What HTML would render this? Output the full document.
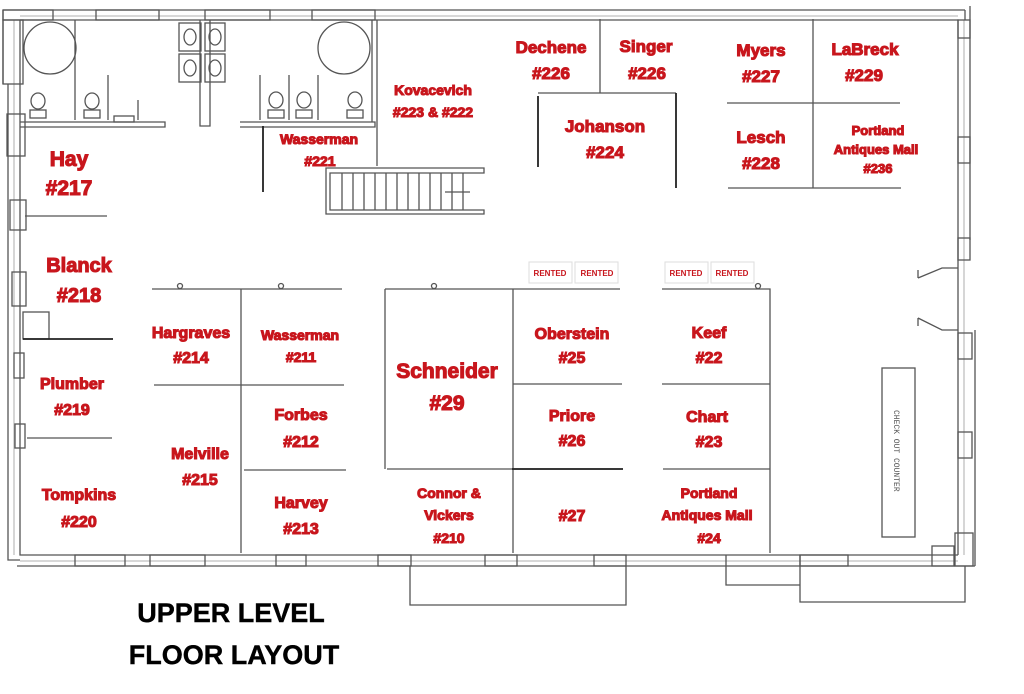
<!DOCTYPE html>
<html><head><meta charset="utf-8"><style>
body{margin:0;background:#fff;}
svg{display:block;}
.l{fill:#c8161d;font-family:"Liberation Sans",sans-serif;font-weight:bold;text-anchor:middle;stroke:#c8161d;stroke-width:1.1;}
.w{fill:none;stroke:#555;stroke-width:1.3;}
.d{fill:none;stroke:#222;stroke-width:1.8;}
.t{fill:#000;font-family:"Liberation Sans",sans-serif;font-weight:bold;text-anchor:middle;font-size:27px;stroke:#000;stroke-width:0.4;}
</style></head><body>
<svg width="1024" height="694" viewBox="0 0 1024 694" xmlns="http://www.w3.org/2000/svg">
<rect width="1024" height="694" fill="#fff"/>
<g class="w">
<path d="M3 10 H965 M3 10 V84 M8 84 V560 H20"/>
<path d="M20 20 H958 V555 M20 20 V555 H958"/>
<path d="M17 566 H975 M965 10 V20 M970 6 V240 M975 330 V566"/>
<path d="M20 16 H958 M14 20 V555 M20 561 H958 M964 20 V555" stroke="#999" stroke-width="0.8"/>
<rect x="3" y="10" width="50" height="10"/><rect x="96" y="10" width="63" height="10"/>
<rect x="205" y="10" width="65" height="10"/><rect x="312" y="10" width="63" height="10"/>
<rect x="3" y="20" width="20" height="64"/><rect x="7" y="114" width="18" height="42"/>
<rect x="10" y="200" width="16" height="30"/><rect x="12" y="272" width="14" height="34"/>
<rect x="14" y="353" width="10" height="25"/><rect x="15" y="424" width="10" height="24"/>
<rect x="958" y="20" width="12" height="18"/><rect x="958" y="137" width="12" height="26"/>
<rect x="958" y="238" width="12" height="22"/><rect x="958" y="333" width="14" height="26"/>
<rect x="958" y="432" width="14" height="26"/><rect x="955" y="533" width="18" height="33"/>
<rect x="75" y="555" width="50" height="11"/><rect x="150" y="555" width="55" height="11"/>
<rect x="276" y="555" width="30" height="11"/><rect x="378" y="555" width="33" height="11"/>
<rect x="485" y="555" width="32" height="11"/><rect x="594" y="555" width="32" height="11"/>
<rect x="800" y="555" width="48" height="11"/><rect x="932" y="546" width="22" height="20"/>
<path d="M410 566 V605 H626 V566 M726 555 V585 H800 V555 M800 566 V602 H965 V566"/>
<path d="M918 278 L942 268 H958 M918 278 V270 M918 318 L942 330 H958 M918 318 V326"/>
</g>
<g class="w">
<circle cx="50" cy="48" r="26"/><circle cx="344" cy="48" r="26"/>
<path d="M20 122 H165 V127 H20 M75 20 V120 M108 75 V120 M138 100 V120"/>
<path d="M240 122 H375 V127 H240 M260 75 V120 M289 75 V120 M318 75 V120 M372 20 V122"/>
<path d="M200 20 V126 H210 V20"/>
<rect x="179" y="23" width="22" height="28"/><rect x="205" y="23" width="20" height="28"/>
<rect x="179" y="54" width="22" height="28"/><rect x="205" y="54" width="20" height="28"/>
<ellipse cx="190" cy="37" rx="6" ry="8"/><ellipse cx="215" cy="37" rx="6" ry="8"/>
<ellipse cx="190" cy="68" rx="6" ry="8"/><ellipse cx="215" cy="68" rx="6" ry="8"/>
<ellipse cx="38" cy="101" rx="7" ry="8"/><rect x="30" y="110" width="16" height="8"/>
<ellipse cx="92" cy="101" rx="7" ry="8"/><rect x="84" y="110" width="16" height="8"/>
<rect x="114" y="116" width="20" height="6"/>
<ellipse cx="276" cy="100" rx="7" ry="8"/><rect x="268" y="110" width="16" height="8"/>
<ellipse cx="304" cy="100" rx="7" ry="8"/><rect x="296" y="110" width="16" height="8"/>
<ellipse cx="355" cy="100" rx="7" ry="8"/><rect x="347" y="110" width="16" height="8"/>
<path d="M377 20 V166"/>
<path d="M326 168 H484 V173 H330 V210 H484 V214 H326 Z"/>
<path d="M342 173 V210 M353 173 V210 M364 173 V210 M375 173 V210 M386 173 V210 M397 173 V210 M408 173 V210 M419 173 V210 M430 173 V210 M441 173 V210 M452 173 V210 M463 173 V210 M445 192 H470"/>
</g>
<path class="d" d="M263 126 V192"/>
<g class="w">
<path d="M25 216 H107 M27 438 H112"/>
<rect x="23" y="312" width="26" height="27"/>
<path d="M152 289 H342 M241 289 V553 M154 385 H344 M244 470 H346"/>
<path d="M385 289 H620 M385 289 V469 M387 469 H620 M513 289 V553 M513 384 H622"/>
<path d="M662 289 H770 V553 M662 384 H770 M663 469 H770"/>
<circle cx="180" cy="286" r="2.5"/><circle cx="281" cy="286" r="2.5"/><circle cx="434" cy="286" r="2.5"/><circle cx="758" cy="286" r="2.5"/>
</g>
<path class="d" d="M23 339 H113 M512 469 H623"/>
<g class="w">
<path d="M600 19 V93 M538 93 H676 M813 19 V188 M727 103 H900 M728 188 H901"/>
</g>
<path class="d" d="M538 96 V167 M676 93 V188"/>
<rect x="882" y="368" width="33" height="169" fill="none" stroke="#555" stroke-width="1.3"/>
<text x="0" y="0" transform="translate(894,410) rotate(90)" font-family="Liberation Mono,monospace" font-size="8" fill="#555">CHECK OUT COUNTER</text>
<g font-family="Liberation Sans,sans-serif" font-size="8" font-weight="bold" fill="#c8161d" text-anchor="middle">
<rect x="529" y="262" width="43" height="21" fill="#fff" stroke="#ddd"/><text x="550" y="276">RENTED</text>
<rect x="575" y="262" width="43" height="21" fill="#fff" stroke="#ddd"/><text x="597" y="276">RENTED</text>
<rect x="665" y="262" width="43" height="21" fill="#fff" stroke="#ddd"/><text x="686" y="276">RENTED</text>
<rect x="711" y="262" width="43" height="21" fill="#fff" stroke="#ddd"/><text x="732" y="276">RENTED</text>
</g>
<g class="l">
<text x="69" y="166" font-size="21">Hay</text><text x="69" y="195" font-size="21">#217</text>
<text x="79" y="272" font-size="20">Blanck</text><text x="79" y="302" font-size="20">#218</text>
<text x="72" y="389" font-size="16">Plumber</text><text x="72" y="415" font-size="16">#219</text>
<text x="79" y="500" font-size="16">Tompkins</text><text x="79" y="527" font-size="16">#220</text>
<text x="191" y="338" font-size="16">Hargraves</text><text x="191" y="363" font-size="16">#214</text>
<text x="300" y="340" font-size="14">Wasserman</text><text x="301" y="362" font-size="14">#211</text>
<text x="200" y="459" font-size="16">Melville</text><text x="200" y="485" font-size="16">#215</text>
<text x="301" y="420" font-size="16">Forbes</text><text x="301" y="447" font-size="16">#212</text>
<text x="301" y="508" font-size="16">Harvey</text><text x="301" y="534" font-size="16">#213</text>
<text x="447" y="378" font-size="21">Schneider</text><text x="447" y="410" font-size="21">#29</text>
<text x="449" y="498" font-size="14">Connor &amp;</text><text x="449" y="520" font-size="14">Vickers</text><text x="449" y="543" font-size="14">#210</text>
<text x="572" y="339" font-size="16">Oberstein</text><text x="572" y="363" font-size="16">#25</text>
<text x="572" y="421" font-size="16">Priore</text><text x="572" y="446" font-size="16">#26</text>
<text x="572" y="521" font-size="16">#27</text>
<text x="709" y="338" font-size="16">Keef</text><text x="709" y="363" font-size="16">#22</text>
<text x="707" y="422" font-size="16">Chart</text><text x="709" y="447" font-size="16">#23</text>
<text x="709" y="498" font-size="14">Portland</text><text x="707" y="520" font-size="14">Antiques Mall</text><text x="709" y="543" font-size="14">#24</text>
<text x="319" y="144" font-size="14">Wasserman</text><text x="320" y="166" font-size="14">#221</text>
<text x="433" y="95" font-size="14">Kovacevich</text><text x="433" y="117" font-size="14">#223 &amp; #222</text>
<text x="551" y="53" font-size="17">Dechene</text><text x="551" y="79" font-size="17">#226</text>
<text x="646" y="52" font-size="17">Singer</text><text x="647" y="79" font-size="17">#226</text>
<text x="605" y="132" font-size="17">Johanson</text><text x="605" y="158" font-size="17">#224</text>
<text x="761" y="56" font-size="17">Myers</text><text x="761" y="82" font-size="17">#227</text>
<text x="865" y="55" font-size="17">LaBreck</text><text x="864" y="81" font-size="17">#229</text>
<text x="761" y="143" font-size="17">Lesch</text><text x="761" y="169" font-size="17">#228</text>
<text x="878" y="135" font-size="13">Portland</text><text x="876" y="154" font-size="13">Antiques Mall</text><text x="878" y="173" font-size="13">#236</text>
</g>
<text class="t" x="231" y="622">UPPER LEVEL</text>
<text class="t" x="234" y="664">FLOOR LAYOUT</text>
</svg>
</body></html>
